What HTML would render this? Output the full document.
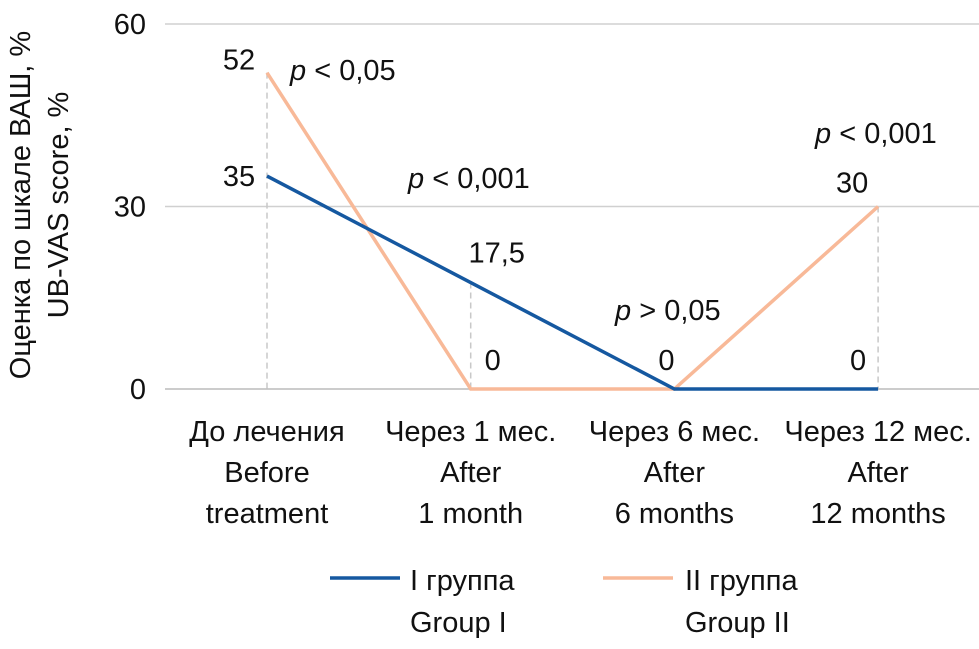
<!DOCTYPE html>
<html><head><meta charset="utf-8"><style>
body{margin:0;background:#fff}
text{font-family:"Liberation Sans Narrow","Liberation Sans",sans-serif;fill:#111}
</style></head><body>
<svg id="c" width="979" height="644" xmlns="http://www.w3.org/2000/svg"></svg>
<script>
const categoriesRu=["До лечения","Через 1 мес.","Через 6 мес.","Через 12 мес."];
const categoriesEn1=["Before","After","After","After"];
const categoriesEn2=["treatment","1 month","6 months","12 months"];
const group1=[35,17.5,0,0];
const group2=[52,0,0,30];
const yTicks=[0,30,60];
const pLabels=["p < 0,05","p < 0,001","p > 0,05","p < 0,001"];
const NS="http://www.w3.org/2000/svg";
const svg=document.getElementById('c');
const xS=i=>267+i*203.7;
const yS=v=>389-v*(365/60);
function el(tag,attrs,txt){const e=document.createElementNS(NS,tag);for(const k in attrs)e.setAttribute(k,attrs[k]);if(txt!==undefined)e.textContent=txt;svg.appendChild(e);return e;}
yTicks.forEach(t=>{
 const g=el('line',{x1:165,x2:979,y1:yS(t),y2:yS(t),stroke:t===0?'#bbb':'#d0d0d0','stroke-width':1.5});
 
 
 const l=el('text',{x:146,y:yS(t)+10,'text-anchor':'end','font-size':29},String(t));
 
 
});
const yt=el('text',{transform:'translate(30,205) rotate(-90)','text-anchor':'middle','font-size':29},'Оценка по шкале ВАШ, %');


const yt2=el('text',{transform:'translate(68,205) rotate(-90)','text-anchor':'middle','font-size':29},'UB-VAS score, %');


// dashed drops
[[0,group2[0]],[1,group1[1]],[3,group2[3]]].forEach(([i,v])=>{
 const d=el('line',{x1:xS(i),x2:xS(i),y1:yS(v),y2:yS(0),stroke:'#c8c8c8','stroke-width':1.5,'stroke-dasharray':'6,4'});
 
 
});
function series(arr,color,name){
 const p=el('polyline',{points:arr.map((v,i)=>xS(i)+','+yS(v)).join(' '),fill:'none',stroke:color,'stroke-width':3.5});
 
 
}
series(group2,'#f8b998','line-group-2');
series(group1,'#1558a0','line-group-1');
function lab(x,y,t,name,anchor){const e=el('text',{x:x,y:y,'font-size':29,'text-anchor':anchor||'middle'},t);
 
 return e;}
lab(xS(0)-28,yS(group2[0])-3,String(group2[0]),'label-g2-0');
lab(xS(0)-28,yS(group1[0])+10,String(group1[0]),'label-g1-0');
lab(xS(1)+26,yS(group1[1])-20,String(group1[1]).replace('.',','),'label-g1-1');
lab(xS(1)+22,yS(0)-19,String(group2[1]),'label-g2-1');
lab(xS(2)-8,yS(0)-19,String(group1[2]),'label-g1-2');
lab(xS(3)-20,yS(0)-19,String(group1[3]),'label-g1-3');
lab(xS(3)-26,yS(group2[3])-14,String(group2[3]),'label-g2-3');
const pPos=[[290,80],[408,188],[615,320],[815,143]];
pLabels.forEach((t,i)=>{
 const e=el('text',{x:pPos[i][0],y:pPos[i][1],'font-size':29});
 
 
 const a=document.createElementNS(NS,'tspan');a.setAttribute('font-style','italic');a.textContent='p';e.appendChild(a);
 const b=document.createElementNS(NS,'tspan');b.textContent=t.slice(1);e.appendChild(b);
});
categoriesRu.forEach((c,i)=>{
 lab(xS(i),441,c,'x-label-ru-'+i);
 lab(xS(i),482,categoriesEn1[i],'x-label-en1-'+i);
 lab(xS(i),523,categoriesEn2[i],'x-label-en2-'+i);
});
const l1=el('line',{x1:330,x2:400,y1:578,y2:578,stroke:'#1558a0','stroke-width':3.5});


lab(410,590,'I группа','legend-entry-group-1','start');
lab(410,632,'Group I','legend-entry-group-1-en','start');
const l2=el('line',{x1:603,x2:673,y1:578,y2:578,stroke:'#f8b998','stroke-width':3.5});


lab(685,590,'II группа','legend-entry-group-2','start');
lab(685,632,'Group II','legend-entry-group-2-en','start');
</script>
</body></html>
